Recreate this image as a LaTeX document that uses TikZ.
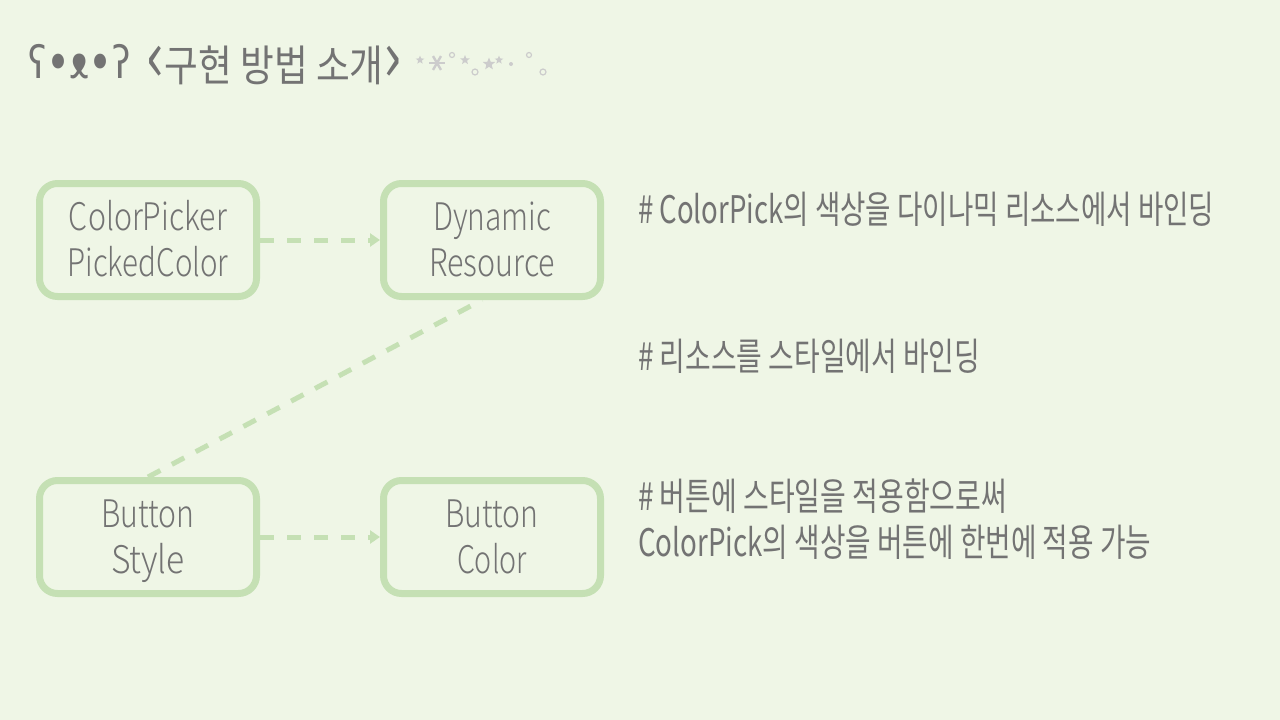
\documentclass[tikz,border=0pt]{standalone}
\usepackage{fontspec}
\usepackage{graphicx}
\usetikzlibrary{arrows.meta,shapes.geometric}
\newfontfamily\krfont{Noto Sans CJK KR}
\IfFontExistsTF{Noto Sans CJK KR Light}{\newfontfamily\boxfont{Noto Sans CJK KR Light}}{\newfontfamily\boxfont{Noto Sans CJK KR}}
\newfontfamily\kaofont{DejaVu Sans}
\newfontfamily\nosefont{Noto Sans}
\definecolor{bgcol}{HTML}{EFF6E6}
\definecolor{boxgreen}{HTML}{C5E0B4}
\definecolor{txtgray}{HTML}{737373}
\definecolor{sparkgray}{HTML}{CCCCCC}
\newsavebox\fitbox
\newlength\fitlen
\newcommand\fitw[2]{\sbox\fitbox{#2}\setlength\fitlen{\wd\fitbox}\pgfmathsetmacro\fitratio{#1/\fitlen}\scalebox{\fitratio}[1]{\usebox\fitbox}}
\newcommand\lstrut{\vrule height 36pt depth 10pt width 0pt}
\newcommand\kdot{\raisebox{-2pt}{\fontsize{51}{51}\selectfont•}}
\begin{document}
\begin{tikzpicture}[x=1pt,y=-1pt,
  box/.style={draw=boxgreen, line width=7pt, rounded corners=18pt, minimum width=217pt, minimum height=113pt, inner sep=0pt, align=center, text=txtgray, font=\boxfont\fontsize{38}{46}\selectfont},
  dasharrow/.style={draw=boxgreen, line width=5pt, dash pattern=on 14pt off 13pt, -{Triangle[length=10pt,width=13pt]}},
  dashline/.style={draw=boxgreen, line width=5pt, dash pattern=on 14pt off 13pt},
  note/.style={anchor=base west, inner sep=0pt, text=txtgray, font=\krfont\fontsize{38}{42}\selectfont},
  spark/.style={fill=sparkgray, draw=none, inner sep=0pt, star, star points=5, star point ratio=2.3},
  ring/.style={draw=sparkgray, line width=1.2pt}]

\fill[bgcol] (0,0) rectangle (1280,720);
\useasboundingbox (0,0) rectangle (1280,720);

% title
\node[anchor=base west, inner sep=0pt, text=txtgray, font=\kaofont\fontsize{45}{50}\selectfont] (kao) at (28,78) {\fitw{103}{ʕ\kdot{\nosefont ᴥ}\kdot ʔ}};
\node[anchor=base west, inner sep=0pt, text=txtgray, font=\krfont\fontsize{43}{50}\selectfont] (title) at (146,81) {\fitw{256}{{\fontsize{72}{72}\selectfont‹}구현 방법 소개{\fontsize{72}{72}\selectfont›}}};

% sparkles
\node[spark, minimum size=9pt] (s1) at (420,60) {};
\foreach \a in {0,60,...,300} \draw[sparkgray, line width=2.4pt] (437,63) -- ++(\a:8);
\draw[ring] (452,55) circle (2.5);
\node[spark, minimum size=10pt] (s2) at (465,60) {};
\draw[ring] (475,72) circle (3);
\node[spark, minimum size=13pt] (s3) at (489,64) {};
\node[spark, minimum size=9pt] (s4) at (499,60) {};
\fill[sparkgray] (511,64) circle (2);
\draw[ring] (529,55) circle (2.5);
\draw[ring] (543,72) circle (3);

% boxes
\node[box] (b1) at (148,240) {\lstrut\fitw{158}{ColorPicker}\\\lstrut\fitw{161}{PickedColor}};
\node[box] (b2) at (492,240) {\lstrut\fitw{118}{Dynamic}\\\lstrut\fitw{126}{Resource}};
\node[box] (b3) at (148,537) {\lstrut\fitw{93}{Button}\\\lstrut\fitw{74}{Style}};
\node[box] (b4) at (492,537) {\lstrut\fitw{93}{Button}\\\lstrut\fitw{70}{Color}};

% connectors
\draw[dasharrow] (b1.east) -- (b2.west);
\draw[dasharrow] (b3.east) -- (b4.west);
\draw[dashline] (b3.north) -- ([xshift=-10pt]b2.south);

% notes
\node[note] (n1) at (638,223) {\fitw{576}{\# ColorPick의 색상을 다이나믹 리소스에서 바인딩}};
\node[note] (n2) at (638,370) {\fitw{342}{\# 리소스를 스타일에서 바인딩}};
\node[note] (n3) at (638,510) {\fitw{369}{\# 버튼에 스타일을 적용함으로써}};
\node[note] (n4) at (638,556) {\fitw{513}{ColorPick의 색상을 버튼에 한번에 적용 가능}};
\end{tikzpicture}
\end{document}
